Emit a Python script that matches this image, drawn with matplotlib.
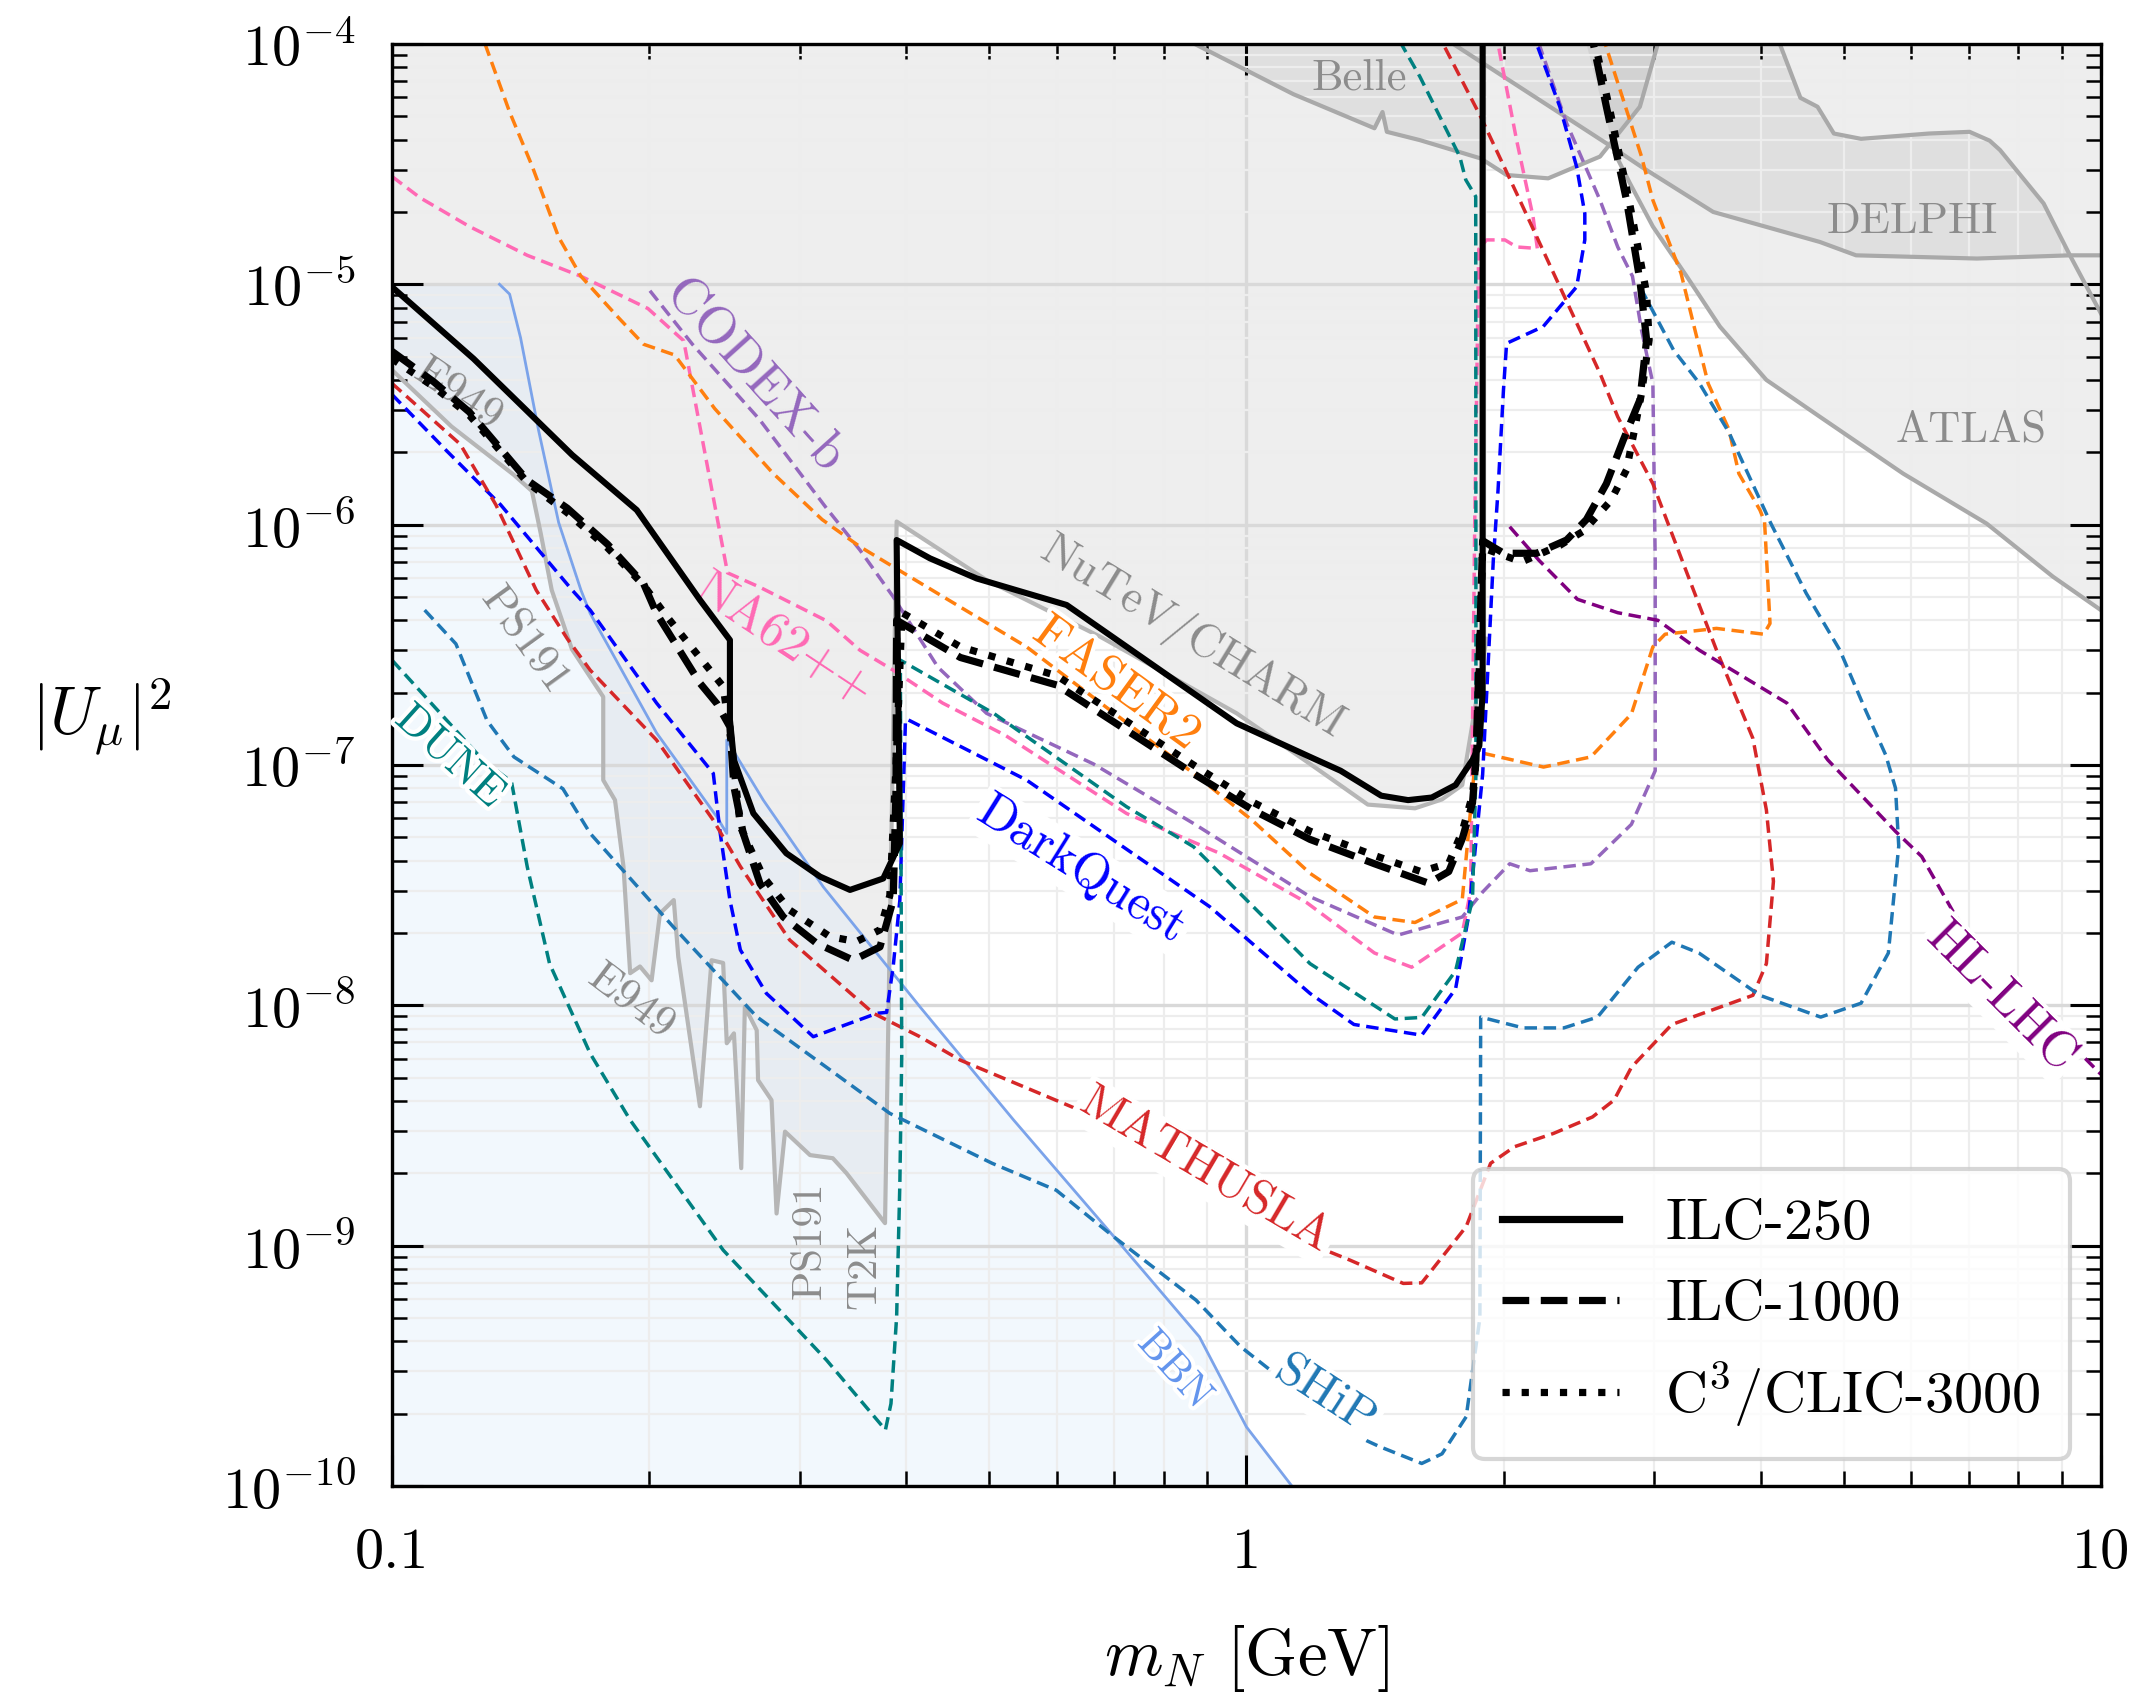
import matplotlib
matplotlib.use('Agg')
import matplotlib.pyplot as plt
import matplotlib.patheffects as pe
from matplotlib.lines import Line2D
from matplotlib.ticker import FixedLocator, FuncFormatter, LogLocator, NullFormatter
import numpy as np

plt.rcParams['font.family'] = 'cmr10'
plt.rcParams['mathtext.fontset'] = 'cm'
plt.rcParams['axes.formatter.use_mathtext'] = True
plt.rcParams['axes.unicode_minus'] = False

# ---------------- existing limits (grey) ----------------
# E949 / PS191 / T2K lower edge, then the NuTeV/CHARM edge
e949_m = [0.1, 0.1174, 0.1389, 0.1458, 0.1493, 0.1538, 0.1624, 0.1767, 0.1767, 0.1824,
          0.1866, 0.19, 0.1951, 0.2013, 0.2059, 0.2137, 0.2163, 0.2293, 0.2366, 0.2441,
          0.2465, 0.2513, 0.2563, 0.2588, 0.2672, 0.2682, 0.2781, 0.2819, 0.2884, 0.3085,
          0.328, 0.3404, 0.3776]
e949_u = [4.4e-6, 2.56e-6, 1.61e-6, 1.38e-6, 9.2e-7, 5.34e-7, 3.03e-7, 1.92e-7, 8.65e-8, 7.14e-8,
          3.78e-8, 1.36e-8, 1.45e-8, 1.27e-8, 2.41e-8, 2.74e-8, 1.59e-8, 3.8e-9, 1.54e-8, 1.5e-8,
          6.95e-9, 7.64e-9, 2.1e-9, 9.86e-9, 7.88e-9, 4.88e-9, 4.03e-9, 1.36e-9, 2.98e-9, 2.38e-9,
          2.31e-9, 2.0e-9, 1.24e-9]
nutev_m = [0.3896, 0.4964, 0.674, 0.974, 1.187, 1.387, 1.575, 1.694, 1.789, 1.91, 1.91]
nutev_u = [1.03e-6, 5.88e-7, 3.42e-7, 1.64e-7, 1.01e-7, 6.84e-8, 6.6e-8, 7.19e-8, 8.25e-8, 3.35e-7, 1e-4]

belle_m = [0.87, 1.135, 1.412, 1.443, 1.46, 1.596, 1.88, 2.016, 2.255, 2.593, 2.887, 3.03]
belle_u = [1e-4, 6.18e-5, 4.46e-5, 5.21e-5, 4.31e-5, 3.98e-5, 3.34e-5, 2.85e-5, 2.76e-5, 3.4e-5, 5.48e-5, 1e-4]

delphi_lo_m = [1.746, 2.638, 2.9, 3.518, 4.69, 5.17, 7.16, 9.2, 10.0]
delphi_lo_u = [1e-4, 3.86e-5, 3.08e-5, 2.0e-5, 1.5e-5, 1.32e-5, 1.28e-5, 1.32e-5, 1.32e-5]
delphi_hi_m = [4.21, 4.45, 4.66, 4.87, 5.24, 6.29, 7.02, 7.41, 7.62, 8.57, 9.2, 10.0]
delphi_hi_u = [1e-4, 5.97e-5, 5.48e-5, 4.24e-5, 4.03e-5, 4.24e-5, 4.31e-5, 3.96e-5, 3.62e-5, 2.17e-5, 1.32e-5, 7.57e-6]

atlas_m = [2.70, 2.811, 2.99, 3.275, 3.582, 4.06, 4.69, 5.87, 7.35, 8.79, 10.0]
atlas_u = [3.5e-5, 2.63e-5, 1.74e-5, 1.08e-5, 6.67e-6, 4.0e-6, 2.81e-6, 1.63e-6, 1.01e-6, 6.07e-7, 4.41e-7]

bbn_m = [0.1336, 0.1373, 0.1414, 0.1484, 0.1567, 0.1664, 0.1706, 0.204, 0.24, 0.2465, 0.2465,
         0.272, 0.3197, 0.4148, 0.534, 0.711, 0.881, 1.0, 1.13]
bbn_u = [1e-5, 9.1e-6, 6.0e-6, 2.48e-6, 1.02e-6, 5.34e-7, 4.27e-7, 1.36e-7, 6.08e-8, 5.19e-8, 1.27e-7,
         7.14e-8, 3.11e-8, 9.86e-9, 3.33e-9, 1.02e-9, 4.17e-10, 1.76e-10, 1e-10]

# ---------------- future experiments (dashed) ----------------
na62_m = [0.1, 0.1079, 0.1232, 0.144, 0.1664, 0.1993, 0.2195, 0.247, 0.2692, 0.3225, 0.353, 0.386,
          0.4409, 0.5218, 0.724, 0.929, 1.177, 1.412, 1.561, 1.789, 1.83, 1.85, 1.87, 1.91, 2.007,
          2.071, 2.19, 2.165, 2.071, 1.97]
na62_u = [2.81e-5, 2.29e-5, 1.74e-5, 1.32e-5, 1.08e-5, 7.93e-6, 5.82e-6, 6.3e-7, 5.5e-7, 3.98e-7, 3.0e-7,
          2.48e-7, 1.81e-7, 1.33e-7, 6.28e-8, 4.3e-8, 2.67e-8, 1.65e-8, 1.44e-8, 2.0e-8, 3.0e-8, 1e-6,
          1.4e-5, 1.53e-5, 1.53e-5, 1.43e-5, 1.41e-5, 1.91e-5, 3.98e-5, 1e-4]

codex_m = [0.2004, 0.2247, 0.2692, 0.3225, 0.353, 0.386, 0.4355, 0.4964, 0.662, 0.867, 1.187, 1.505,
           1.789, 1.89, 2.033, 2.147, 2.53, 2.822, 3.009, 3.009, 2.99, 2.9, 2.83, 2.72, 2.593, 2.37, 2.2]
codex_u = [9.4e-6, 5.63e-6, 2.74e-6, 1.17e-6, 7.83e-7, 5.01e-7, 2.55e-7, 1.64e-7, 1.01e-7, 5.71e-8, 2.83e-8,
           1.96e-8, 2.33e-8, 2.96e-8, 3.88e-8, 3.63e-8, 3.88e-8, 5.66e-8, 9.46e-8, 7.1e-7, 3.87e-6, 6.45e-6,
           1.08e-5, 1.43e-5, 2.24e-5, 4.68e-5, 1e-4]

faser_m = [0.1285, 0.1373, 0.1458, 0.1567, 0.1664, 0.1832, 0.197, 0.2142, 0.2386, 0.279, 0.3187, 0.353,
           0.386, 0.553, 0.867, 1.017, 1.187, 1.412, 1.575, 1.789, 1.856, 1.89, 2.227, 2.53, 2.822, 2.99,
           3.09, 3.549, 4.03, 4.1, 4.04, 3.99, 3.77, 3.67, 3.47, 3.226, 2.99, 2.9, 2.63]
faser_u = [1e-4, 5.21e-5, 3.12e-5, 1.57e-5, 1.08e-5, 7.4e-6, 5.63e-6, 5.08e-6, 3.04e-6, 1.64e-6, 1.05e-6,
           8.09e-7, 6.68e-7, 3.1e-7, 9.23e-8, 5.86e-8, 3.54e-8, 2.33e-8, 2.21e-8, 2.76e-8, 1.12e-7, 1.12e-7,
           9.8e-8, 1.08e-7, 1.63e-7, 3.1e-7, 3.5e-7, 3.7e-7, 3.5e-7, 3.88e-7, 1.03e-6, 1.15e-6, 1.63e-6,
           2.49e-6, 3.87e-6, 1.11e-5, 2.24e-5, 3.4e-5, 1e-4]

darkquest_m = [0.1, 0.116, 0.134, 0.1625, 0.1706, 0.204, 0.2377, 0.2422, 0.2486, 0.2557, 0.2743, 0.3112,
               0.3695, 0.3792, 0.386, 0.393, 0.399, 0.402, 0.553, 0.906, 1.187, 1.336, 1.604, 1.757,
               1.819, 1.89, 1.945, 1.97, 1.999, 2.016, 2.225, 2.435, 2.489, 2.489, 2.435, 2.327, 2.186]
darkquest_u = [3.48e-6, 2.02e-6, 1.21e-6, 5.34e-7, 4.41e-7, 1.81e-7, 9.22e-8, 5.19e-8, 2.74e-8, 1.7e-8,
               1.12e-8, 7.4e-9, 9.26e-9, 9.34e-9, 1.45e-8, 2.74e-8, 1.54e-7, 1.54e-7, 8.65e-8, 2.57e-8,
               1.12e-8, 8.32e-9, 7.51e-9, 1.17e-8, 2.33e-8, 9.14e-8, 7.1e-7, 1.39e-6, 3.63e-6, 5.68e-6,
               6.67e-6, 9.77e-6, 1.53e-5, 1.97e-5, 3.08e-5, 5.48e-5, 1e-4]

mathusla_m = [0.1, 0.1202, 0.1323, 0.1475, 0.1604, 0.1706, 0.204, 0.2377, 0.2557, 0.292, 0.366, 0.4148,
              0.4626, 0.638, 0.75, 0.894, 1.05, 1.2, 1.322, 1.526, 1.604, 1.808, 1.931, 2.06, 2.288,
              2.541, 2.693, 2.822, 3.147, 3.915, 4.06, 4.138, 4.06, 3.915, 3.55, 3.24, 2.99, 2.72, 2.593,
              2.327, 2.089, 1.88, 1.699]
mathusla_u = [3.87e-6, 2.16e-6, 1.21e-6, 5.34e-7, 3.35e-7, 2.48e-7, 1.27e-7, 5.89e-8, 3.78e-8, 1.87e-8,
              9.26e-9, 7.4e-9, 5.91e-9, 3.66e-9, 2.9e-9, 2.05e-9, 1.4e-9, 1.0e-9, 8.7e-10, 6.96e-10,
              7.0e-10, 1.2e-9, 2.2e-9, 2.58e-9, 2.93e-9, 3.43e-9, 4.03e-9, 5.52e-9, 8.32e-9, 1.1e-8,
              1.49e-8, 3.28e-8, 6.5e-8, 1.29e-7, 3.0e-7, 7.0e-7, 1.48e-6, 2.81e-6, 4.26e-6, 9.77e-6,
              2.24e-5, 4.98e-5, 1e-4]

dune_m = [0.1, 0.1277, 0.138, 0.144, 0.1529, 0.1706, 0.19, 0.2441, 0.3225, 0.3725, 0.378, 0.3837,
          0.3896, 0.393, 0.395, 0.3935, 0.506, 0.724, 0.867, 1.187, 1.492, 1.604, 1.757, 1.839, 1.856,
          1.856, 1.855, 1.806, 1.777, 1.596, 1.518]
dune_u = [2.73e-7, 1.05e-7, 8.5e-8, 3.76e-8, 1.49e-8, 6.3e-9, 3.33e-9, 9.58e-10, 3.34e-10, 1.82e-10,
          1.71e-10, 2.2e-10, 5.06e-10, 1.82e-9, 6.2e-9, 2.73e-7, 1.64e-7, 6.7e-8, 4.57e-8, 1.49e-8,
          8.77e-9, 8.9e-9, 1.39e-8, 2.76e-8, 9.14e-8, 7.1e-7, 2.32e-5, 2.72e-5, 3.4e-5, 7.31e-5, 1e-4]

ship_m = [0.1092, 0.1188, 0.1292, 0.1389, 0.1585, 0.1706, 0.2134, 0.2672, 0.3225, 0.3825, 0.504, 0.599,
          0.699, 0.873, 0.985, 1.322, 1.43, 1.604, 1.694, 1.808, 1.876, 1.88, 2.108, 2.352, 2.576,
          2.873, 3.147, 3.385, 3.99, 4.7, 5.24, 5.64, 5.8, 5.75, 5.6, 5.3, 4.95, 4.52, 4.11, 3.67,
          3.39, 3.161, 2.9]
ship_u = [4.41e-7, 3.19e-7, 1.53e-7, 1.08e-7, 7.96e-8, 5.19e-8, 2.12e-8, 8.96e-9, 5.52e-9, 3.55e-9,
          2.2e-9, 1.7e-9, 1.09e-9, 5.93e-10, 3.79e-10, 1.66e-10, 1.46e-10, 1.24e-10, 1.36e-10, 1.94e-10,
          5.0e-10, 8.93e-9, 8.05e-9, 8.05e-9, 8.93e-9, 1.44e-8, 1.83e-8, 1.65e-8, 1.1e-8, 8.93e-9,
          1.02e-8, 1.65e-8, 4.6e-8, 8.0e-8, 1.1e-7, 1.7e-7, 3.0e-7, 5.18e-7, 1.01e-6, 2.42e-6,
          3.87e-6, 5.33e-6, 9.5e-6]

hllhc_m = [2.033, 2.2, 2.44, 2.72, 3.03, 3.39, 4.29, 4.79, 5.75, 6.17, 6.77, 7.97, 10.0]
hllhc_u = [9.8e-7, 7.1e-7, 4.89e-7, 4.3e-7, 4.0e-7, 3.0e-7, 1.81e-7, 1.05e-7, 5.29e-8, 4.16e-8, 2.33e-8,
           1.17e-8, 5.16e-9]

# ---------------- linear collider reach (black) ----------------
ilc250_m = [0.1, 0.1246, 0.1625, 0.1934, 0.2293, 0.2486, 0.2486, 0.2513, 0.2648, 0.2894, 0.317, 0.3436,
            0.3758, 0.393, 0.3896, 0.4262, 0.4834, 0.616, 0.974, 1.187, 1.289, 1.438, 1.546, 1.648,
            1.757, 1.839, 1.873, 1.89, 1.89]
ilc250_u = [9.75e-6, 4.9e-6, 1.95e-6, 1.15e-6, 4.86e-7, 3.31e-7, 1.54e-7, 1.05e-7, 6.29e-8, 4.29e-8,
            3.43e-8, 3.02e-8, 3.37e-8, 4.72e-8, 8.63e-7, 7.24e-7, 5.97e-7, 4.63e-7, 1.49e-7, 1.08e-7,
            9.46e-8, 7.45e-8, 7.14e-8, 7.32e-8, 8.25e-8, 1.05e-7, 1.2e-7, 2e-7, 1e-4]

ilc1000_m = [0.1, 0.1119, 0.1232, 0.144, 0.1604, 0.1788, 0.197, 0.204, 0.2293, 0.24, 0.2486, 0.2513,
             0.2577, 0.2696, 0.2871, 0.3141, 0.3466, 0.3725, 0.386, 0.389, 0.3896, 0.4626, 0.6, 0.867,
             1.017, 1.187, 1.412, 1.634, 1.725, 1.789, 1.839, 1.856, 1.89, 2.0, 2.186, 2.37, 2.5, 2.638,
             2.761, 2.887, 2.94, 2.887, 2.785, 2.638, 2.547]
ilc1000_u = [5.26e-6, 3.93e-6, 2.94e-6, 1.53e-6, 1.17e-6, 8.28e-7, 5.68e-7, 4.27e-7, 2.19e-7, 1.8e-7,
             1.44e-7, 8.12e-8, 5.19e-8, 3.21e-8, 2.33e-8, 1.81e-8, 1.54e-8, 1.75e-8, 2.74e-8, 8e-8,
             4.0e-7, 2.8e-7, 2.15e-7, 9.2e-8, 6.5e-8, 4.9e-8, 3.88e-8, 3.22e-8, 3.6e-8, 4.93e-8,
             6.95e-8, 1.05e-7, 8.57e-7, 7.6e-7, 7.6e-7, 8.63e-7, 1.05e-6, 1.48e-6, 2.25e-6, 3.3e-6,
             5.87e-6, 1.04e-5, 2.24e-5, 5.48e-5, 1e-4]

clic_m = [0.1, 0.1119, 0.1232, 0.144, 0.1604, 0.1788, 0.197, 0.2098, 0.2441, 0.2499, 0.2557, 0.272,
          0.292, 0.3256, 0.3495, 0.3725, 0.3825, 0.389, 0.3953, 0.4626, 0.6, 0.867, 1.017, 1.187,
          1.412, 1.6, 1.725, 1.789, 1.839, 1.86, 1.89, 2.1, 2.327, 2.48, 2.67, 2.785, 2.855, 2.9,
          2.96, 2.94, 2.8, 2.66, 2.56]
clic_u = [4.9e-6, 3.75e-6, 2.85e-6, 1.5e-6, 1.12e-6, 8.0e-7, 5.6e-7, 4.14e-7, 2.12e-7, 1.19e-7, 5.53e-8,
          3.43e-8, 2.49e-8, 1.93e-8, 1.84e-8, 2.06e-8, 2.86e-8, 1e-7, 4.3e-7, 3.1e-7, 2.35e-7, 1.0e-7,
          7.0e-8, 5.3e-8, 4.2e-8, 3.6e-8, 3.9e-8, 5.3e-8, 7.5e-8, 1.1e-7, 8.0e-7, 7.0e-7, 8.2e-7,
          9.4e-7, 1.26e-6, 1.69e-6, 2.63e-6, 3.52e-6, 5.87e-6, 9.18e-6, 2.3e-5, 5.4e-5, 1e-4]

legend_labels = ['ILC-250', 'ILC-1000', r'C$^3$/CLIC-3000']

# ---------------------------------------------------------------
fig = plt.figure(figsize=(10.71, 8.49), dpi=200)
ax = fig.add_axes([0.183, 0.1249, 0.7978, 0.8492])
ax.set_xscale('log')
ax.set_yscale('log')

TOP = 1e-4
BOT = 1e-10
grey_fill = dict(color='0.5', alpha=0.13, lw=0, zorder=0.2)
grey_line = '#b6b6b6'

# low-mass limits + NuTeV/CHARM
ax.fill(e949_m + nutev_m + [0.1], e949_u + nutev_u + [TOP], **grey_fill)
ax.fill(belle_m, belle_u, **grey_fill)
ax.fill(delphi_lo_m[:-2] + delphi_hi_m[-2::-1], delphi_lo_u[:-2] + delphi_hi_u[-2::-1], **grey_fill)
ax.fill([2.5] + atlas_m + [10.0], [TOP] + atlas_u + [TOP], **grey_fill)

# BBN region, laid over the grey as a faint blue tint
ax.fill([0.1] + bbn_m + [0.1], [bbn_u[0]] + bbn_u + [BOT], color='#dcebfc', alpha=0.35, lw=0, zorder=0.3)

ax.plot(e949_m + nutev_m[:-1], e949_u + nutev_u[:-1], color=grey_line, lw=1.5, zorder=1)
for m, u in [(belle_m, belle_u), (delphi_lo_m, delphi_lo_u), (delphi_hi_m, delphi_hi_u),
             (atlas_m, atlas_u)]:
    ax.plot(m, u, color='#a9a9a9', lw=1.5, zorder=1)
ax.plot(bbn_m, bbn_u, color='#7ba3ea', lw=1.0, zorder=1.2)

dash = (0, (3.6, 1.9))
curves = [
    (na62_m, na62_u, '#ff69b4'),
    (codex_m, codex_u, '#9467bd'),
    (faser_m, faser_u, '#ff7f0e'),
    (darkquest_m, darkquest_u, '#0000ff'),
    (mathusla_m, mathusla_u, '#d62728'),
    (dune_m, dune_u, '#008080'),
    (ship_m, ship_u, '#1f77b4'),
    (hllhc_m, hllhc_u, '#800080'),
]
for m, u, c in curves:
    ax.plot(m, u, color=c, lw=1.25, ls=dash, zorder=2)

ax.plot(ilc250_m, ilc250_u, color='k', lw=2.2, ls='-', zorder=5)
ax.plot(ilc1000_m, ilc1000_u, color='k', lw=2.6, ls='--', zorder=5)
ax.plot(clic_m, clic_u, color='k', lw=2.6, ls=':', zorder=5)

# ---------------- labels ----------------
halo = [pe.withStroke(linewidth=3, foreground='white')]
boxed = dict(boxstyle='square,pad=0.08', fc='white', ec='none')


def label(x, y, s, c, rot, size, style=None):
    kw = {}
    if style == 'halo':
        kw['path_effects'] = halo
    elif style == 'box':
        kw['bbox'] = boxed
    ax.text(x, y, s, color=c, rotation=rot, fontsize=size, ha='center', va='center',
            rotation_mode='anchor', zorder=3, **kw)


label(1.355, 7.2e-5, 'Belle', '#8c8c8c', 0, 16)
label(6.01, 1.82e-5, 'DELPHI', '#8c8c8c', 0, 16)
label(7.05, 2.47e-6, 'ATLAS', '#8c8c8c', 0, 16)
label(0.865, 3.38e-7, 'NuTeV/CHARM', '#8c8c8c', -31.5, 16.5)
label(0.1195, 3.48e-6, 'E949', '#8c8c8c', -34, 16)
label(0.1431, 3.29e-7, 'PS191', '#8c8c8c', -54, 16)
label(0.1905, 1.03e-8, 'E949', '#8c8c8c', -37, 16)
label(0.3085, 1.05e-9, 'PS191', '#8c8c8c', 90, 15.5)
label(0.3577, 8.2e-10, 'T2K', '#8c8c8c', 90, 15.5)

label(0.2653, 4.16e-6, 'CODEX-b', '#9467bd', -48, 19)
label(0.2872, 3.3e-7, 'NA62++', '#ff69b4', -33.5, 18)
label(0.705, 2.18e-7, 'FASER2', '#ff7f0e', -36, 18, 'halo')
label(0.1167, 1.08e-7, 'DUNE', '#008080', -42, 16, 'halo')
label(0.641, 3.65e-8, 'DarkQuest', '#0000ff', -32, 18, 'box')
label(0.894, 2.05e-9, 'MATHUSLA', '#d62728', -30.5, 17.5, 'box')
label(0.824, 3.04e-10, 'BBN', '#6495ed', -48, 15, 'halo')
label(1.236, 2.37e-10, 'SHiP', '#1f77b4', -33, 17.5, 'box')
label(7.64, 1.08e-8, 'HL-LHC', '#800080', -45, 18, 'box')

# ---------------- axes ----------------
ax.set_xlim(0.1, 10)
ax.set_ylim(BOT, TOP)
ax.set_axisbelow(True)
ax.grid(which='major', color='#d9d9d9', lw=1.2)
ax.grid(which='minor', color='#ededed', lw=0.8)

ax.xaxis.set_major_locator(FixedLocator([0.1, 1, 10]))
ax.xaxis.set_major_formatter(FuncFormatter(lambda v, p: {0.1: '0.1', 1: '1', 10: '10'}.get(round(v, 3), '')))
ax.xaxis.set_minor_locator(LogLocator(base=10, subs=np.arange(2, 10), numticks=20))
ax.xaxis.set_minor_formatter(NullFormatter())
ax.yaxis.set_major_locator(LogLocator(base=10, numticks=20))
ax.yaxis.set_major_formatter(FuncFormatter(lambda v, p: r'$10^{%d}$' % round(np.log10(v))))
ax.yaxis.set_minor_locator(LogLocator(base=10, subs=np.arange(2, 10), numticks=20))
ax.yaxis.set_minor_formatter(NullFormatter())

ax.tick_params(which='both', direction='in', top=True, right=True)
ax.tick_params(which='major', length=11, width=1.1, labelsize=21)
ax.tick_params(axis='x', which='major', pad=15)
ax.tick_params(axis='y', which='major', pad=13)
ax.tick_params(which='minor', length=5.5, width=0.9)
for s in ax.spines.values():
    s.set_linewidth(1.2)

ax.set_xlabel(r'$m_N$ [GeV]', fontsize=24)
ax.xaxis.set_label_coords(0.5, -0.095)
ax.set_ylabel(r'$|U_\mu|^2$', fontsize=24, rotation=0)
ax.yaxis.set_label_coords(-0.17, 0.505)

handles = [Line2D([], [], color='k', lw=2.6, ls='-'),
           Line2D([], [], color='k', lw=2.6, ls='--'),
           Line2D([], [], color='k', lw=2.6, ls=':')]
leg = ax.legend(handles, legend_labels, loc='lower right', bbox_to_anchor=(0.982, 0.019),
                borderaxespad=0, fontsize=21, frameon=True, fancybox=True, edgecolor='#cccccc',
                framealpha=0.8, handlelength=2.0, borderpad=0.5)
leg.get_frame().set_linewidth(1.5)
leg.set_zorder(6)

fig.savefig('out.png', dpi=200)
